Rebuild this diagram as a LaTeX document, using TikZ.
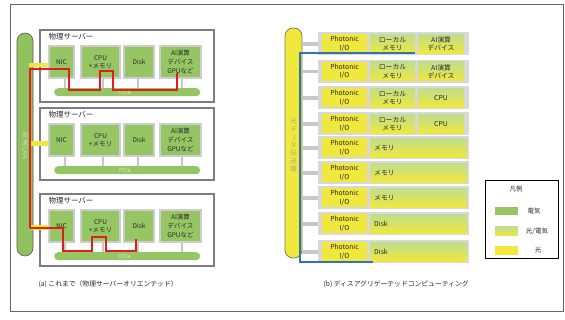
\documentclass[tikz,border=0pt]{standalone}
\usepackage{fontspec}
\setmainfont{Noto Sans CJK JP}
\definecolor{compgreen}{RGB}{150,198,100}
\definecolor{langreen}{RGB}{146,194,96}
\definecolor{compborder}{RGB}{205,205,205}
\definecolor{srvgray}{RGB}{125,125,125}
\definecolor{redc}{RGB}{225,30,30}
\definecolor{yel}{RGB}{240,232,60}
\definecolor{oetop}{RGB}{192,222,140}
\definecolor{bandgray}{RGB}{216,216,216}
\definecolor{bluec}{RGB}{46,117,182}
\definecolor{stubgray}{RGB}{200,200,200}
\definecolor{txt}{RGB}{40,40,40}
\definecolor{olive}{RGB}{130,125,85}
\definecolor{lantxtc}{RGB}{205,215,195}
\definecolor{obartxtc}{RGB}{175,170,130}
\begin{document}
\begin{tikzpicture}[x=1pt,y=-1pt,
  font=\fontsize{6.5}{8}\selectfont,
  frame/.style={draw=gray!80!black, line width=0.7pt},
  server/.style={draw=srvgray, line width=2.4pt, inner sep=0},
  comp/.style={draw=compborder, line width=1.5pt, fill=compgreen, inner sep=0, align=center, text=txt},
  pcie/.style={fill=compgreen, rounded corners=4pt, draw=none, inner sep=0, text=white!80!gray, font=\fontsize{5.5}{6}\selectfont},
  stub/.style={draw=stubgray, line width=1.6pt},
  stubr/.style={draw=stubgray, line width=3.5pt},
  redline/.style={draw=redc, line width=2.4pt},
  ylink/.style={draw=yel, line width=4.5pt},
  bluel/.style={draw=bluec, line width=2.3pt},
  band/.style={fill=bandgray, draw=none, inner sep=0},
  pio/.style={fill=yel, inner sep=0, align=center, text=txt, font=\fontsize{6.8}{8.2}\selectfont},
  oe/.style={top color=oetop, bottom color=yel, draw=none, inner sep=0, align=center, text=txt, font=\fontsize{6.8}{8.2}\selectfont},
  oewide/.style={oe, align=left, text width=89pt, inner xsep=4pt, inner ysep=0pt, minimum height=19pt},
  vtext/.style={align=center, font=\fontsize{6.5}{8}\selectfont},
  title/.style={font=\fontsize{7.5}{8}\selectfont, text=txt, anchor=west},
  caption/.style={font=\fontsize{6.8}{8}\selectfont, text=txt, anchor=west}
]
\useasboundingbox (0,0) rectangle (565,320);
\draw[frame] (10,4) rectangle (563.5,311);

% ---------- (a) left ----------
\node[draw=gray!70!black, line width=0.6pt, fill=langreen, rounded corners=8pt,
      minimum width=16pt, minimum height=223pt, inner sep=0] (lan) at (25,144.5) {};
\node[vtext, text=lantxtc] (lantxt) at (25,146) {高\\速\\\rotatebox[origin=c]{-90}{LAN}};

\foreach \T/\i in {29/1,107/2,193/3}{
  \node[server, minimum width=174pt, minimum height=72pt, anchor=north west] (srv\i) at (39,\T) {};
  \node[title] (ttl\i) at (45,\T+8) {物理サーバー};
  \node[pcie, minimum width=146pt, minimum height=8pt, anchor=north west] (pcie\i) at (54,\T+59) {};
  \node[pcie] (pcietxt\i) at (125,\T+63) {PCIe};
  \draw[stub] (65,\T+49) -- (65,\T+59);
  \draw[stub] (103,\T+49) -- (103,\T+59);
  \draw[stub] (138,\T+49) -- (138,\T+59);
  \draw[stub] (182,\T+49) -- (182,\T+59);
  \node[comp, minimum width=25pt, minimum height=32pt] (nic\i) at (61.5,\T+33) {NIC};
  \node[comp, minimum width=39pt, minimum height=32pt] (cpu\i) at (100.5,\T+33) {CPU\\+メモリ};
  \node[comp, minimum width=30pt, minimum height=32pt] (disk\i) at (139,\T+33) {Disk};
  \node[comp, minimum width=41pt, minimum height=32pt, font=\fontsize{6.5}{8.7}\selectfont] (ai\i) at (180.5,\T+33) {AI演算\\デバイス\\GPUなど};
}

\draw[ylink] (29,65) -- (nic1.west |- 29,65);
\draw[ylink] (31,143.5) -- (nic2.west |- 31,143.5);
\draw[ylink] (31,227.5) -- (nic3.west |- 31,227.5);

\draw[redline] (30,228) -- (30,69) -- (69,69) -- (69,90) -- (100,90) -- (100,71)
   -- (113,71) -- (113,90) -- (177,90) -- (177,73);
\draw[redline] (30,228) -- (63,228) -- (63,251) -- (92,251) -- (92,237)
   -- (106,237) -- (106,251) -- (136,251) -- (136,239);

\node[caption] (capa) at (35,284) {(a) これまで（物理サーバーオリエンテッド）};

% ---------- (b) right ----------
\node[draw=olive, line width=0.8pt, fill=yel, rounded corners=8pt,
      minimum width=17pt, minimum height=230pt, inner sep=0] (obar) at (293.5,143) {};
\node[vtext, text=obartxtc] (obartxt) at (293.5,145) {光\\デ\\\rotatebox[origin=c]{-90}{ー}\\タ\\伝\\送\\路};

\foreach \y [count=\r] in {44,71.5,98,124,148,173,198,224,252}{
  \draw[stubr] (302,\y) -- (319,\y);
  \node[band, minimum width=151pt, minimum height=23pt, anchor=west] (band\r) at (318,\y) {};
  \node[pio, minimum width=45pt, minimum height=19pt] (pio\r) at (344.5,\y) {Photonic\\I/O};
}
\foreach \y [count=\r] in {44,71.5,98,124}{
  \node[oe, minimum width=45pt, minimum height=19pt] (lm\r) at (392.5,\y) {ローカル\\メモリ};
}
\node[oe, minimum width=46pt, minimum height=19pt] (aidev1) at (441,44) {AI演算\\デバイス};
\node[oe, minimum width=46pt, minimum height=19pt] (aidev2) at (441,71.5) {AI演算\\デバイス};
\node[oe, minimum width=46pt, minimum height=19pt] (cpuB1) at (441,98) {CPU};
\node[oe, minimum width=46pt, minimum height=19pt] (cpuB2) at (441,124) {CPU};
\node[oewide, anchor=west] (mem1) at (370,148) {メモリ};
\node[oewide, anchor=west] (mem2) at (370,173) {メモリ};
\node[oewide, anchor=west] (mem3) at (370,198) {メモリ};
\node[oewide, anchor=west] (dsk1) at (370,224) {Disk};
\node[oewide, anchor=west] (dsk2) at (370,252) {Disk};

\draw[bluel] (lm1.south east |- 0,53) -- (300,53) -- (300,262) -- (373,262);

\node[caption] (capb) at (320,284) {(b) ディスアグリゲーテッドコンピューティング};

% ---------- legend ----------
\node[draw=black, line width=1.2pt, minimum width=73pt, minimum height=78pt, anchor=north west, inner sep=0] (leg) at (485,180) {};
\node[text=txt] (legt) at (516,189) {凡例};
\node[fill=compgreen, minimum width=23pt, minimum height=8pt, inner sep=0] (sw1) at (506.5,211) {};
\node[top color=oetop, bottom color=yel, minimum width=23pt, minimum height=9pt, inner sep=0] (sw2) at (506.5,231.5) {};
\node[fill=yel, minimum width=23pt, minimum height=9pt, inner sep=0] (sw3) at (506.5,250.5) {};
\node[text=txt] (l1) at (534,211) {電気};
\node[text=txt] (l2) at (537,231.5) {光/電気};
\node[text=txt] (l3) at (538,250.5) {光};
\end{tikzpicture}
\end{document}
